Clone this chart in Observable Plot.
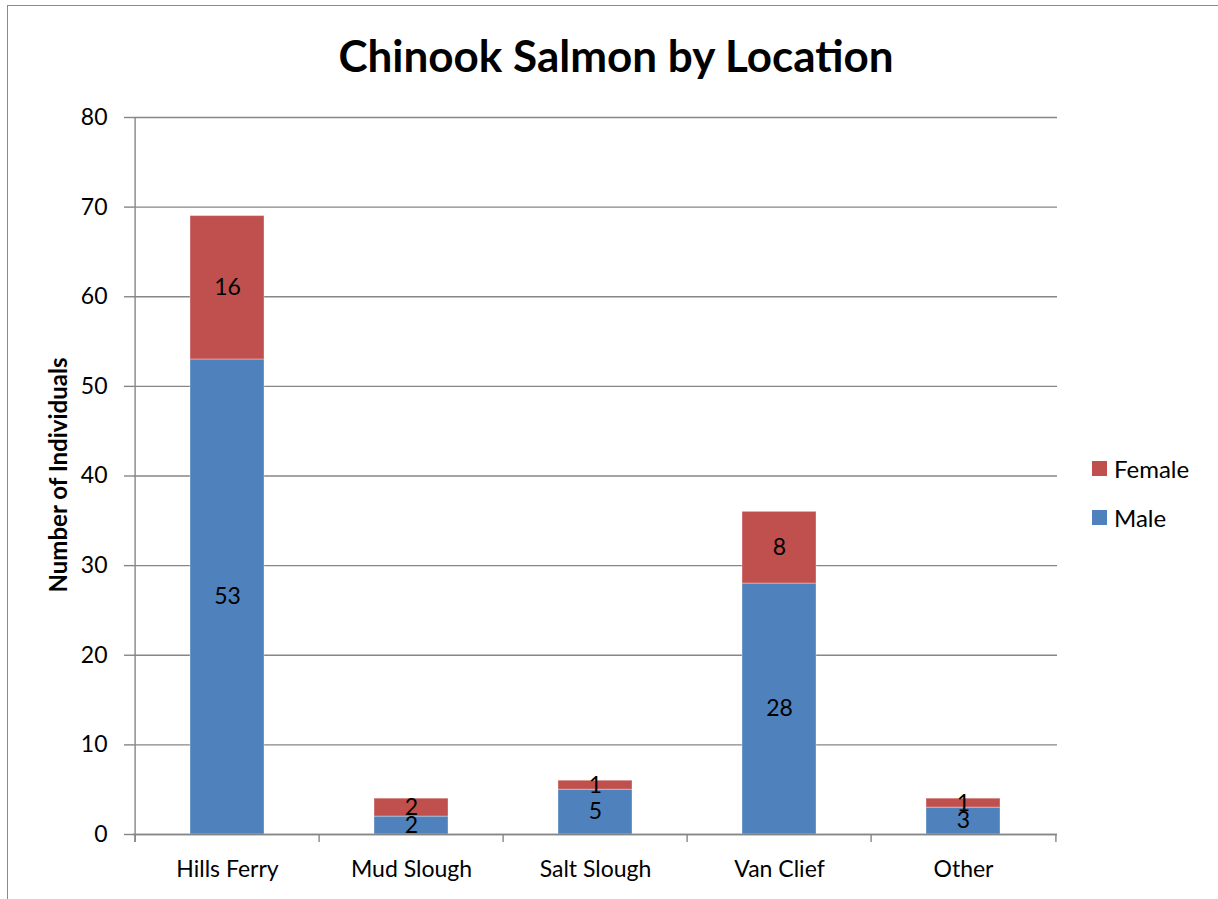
<!DOCTYPE html>
<html>
<head>
<meta charset="utf-8">
<script src="https://cdn.jsdelivr.net/npm/d3@7"></script>
<script src="https://cdn.jsdelivr.net/npm/@observablehq/plot@0.6"></script>
<style>
  html, body { margin: 0; padding: 0; background: #fff; overflow: hidden; }
  #wrap { position: relative; width: 1218px; height: 899px; font-family: Lato, "Open Sans", sans-serif; color: #000; }
  #border { position: absolute; left: 7px; top: 5px; width: 1230px; height: 910px; border-left: 1px solid #8a8a8a; border-top: 1px solid #8a8a8a; }
  #chart { position: absolute; left: 0; top: 0; }
  #title { position: absolute; left: 0; width: 1232px; top: 33px; text-align: center; font-weight: 700; font-size: 44px; line-height: 1; }
  #ylabel { position: absolute; left: 57px; top: 475px; transform: translate(-50%, -50%) rotate(-90deg); white-space: nowrap; font-weight: 700; font-size: 24px; }
  #legend { position: absolute; left: 1092px; top: 456px; font-size: 24px; }
  .item { display: flex; align-items: center; height: 25px; margin-bottom: 24px; }
  .swatch { width: 15px; height: 15px; margin-right: 7px; }
</style>
</head>
<body>
<div id="wrap">
  <div id="border"></div>
  <div id="chart"></div>
  <div id="title">Chinook Salmon by Location</div>
  <div id="ylabel">Number of Individuals</div>
  <div id="legend"></div>
</div>
<script>
// Chinook salmon counts by capture location, split by sex
const locations = ["Hills Ferry", "Mud Slough", "Salt Slough", "Van Clief", "Other"];
const male = [53, 2, 5, 28, 3];
const female = [16, 2, 1, 8, 1];
const sexes = ["Female", "Male"];
const sexColors = ["#C0504D", "#4F81BD"];
const yTicks = [0, 10, 20, 30, 40, 50, 60, 70, 80];

// Long-format rows: males first so they stack at the bottom
const rows = [
  ...locations.map((loc, i) => ({location: loc, sex: "Male", count: male[i]})),
  ...locations.map((loc, i) => ({location: loc, sex: "Female", count: female[i]}))
];

const W = 1218, H = 899;
const ML = 133, MR = 161, MT = 117, MB = 65;
// band step (padding inner 0.6, outer 0.3 => step = range / n)
const step = (W - ML - MR) / locations.length;
const grey = "#868686";

const chart = Plot.plot({
  width: W,
  height: H,
  marginLeft: ML,
  marginRight: MR,
  marginTop: MT,
  marginBottom: MB,
  style: {fontFamily: "Lato, 'Open Sans', sans-serif", fontSize: "23px", color: "#000", background: "transparent"},
  x: {domain: locations, paddingInner: 0.6, paddingOuter: 0.3, label: null},
  y: {domain: [0, 80], label: null},
  color: {domain: sexes, range: sexColors},
  marks: [
    Plot.gridY(yTicks, {stroke: grey, strokeOpacity: 1, strokeWidth: 1.4}),
    Plot.barY(rows, {x: "location", y: "count", fill: "sex", stroke: "#fff", strokeOpacity: 0.35, strokeWidth: 1}),
    Plot.text(rows, Plot.stackY({x: "location", y: "count", z: "sex", text: "count", fill: "#000"})),
    // category boundary ticks below the baseline; the first doubles as the y axis line
    Plot.ruleX(locations, {x: d => d, y1: 0, y2: 0, dx: -step / 2, insetBottom: -8, stroke: grey, strokeWidth: 1.4}),
    Plot.ruleX([locations[0]], {x: d => d, y1: 80, y2: 0, dx: -step / 2, insetBottom: -8, stroke: grey, strokeWidth: 1.4}),
    Plot.ruleX([locations[locations.length - 1]], {x: d => d, y1: 0, y2: 0, dx: step / 2, insetBottom: -8, stroke: grey, strokeWidth: 1.4}),
    Plot.ruleY([0], {stroke: grey, strokeWidth: 1.4}),
    Plot.axisY(yTicks, {tickSize: 9, tickPadding: 17, stroke: grey, strokeWidth: 1.4, strokeOpacity: 1, label: null}),
    Plot.axisX({tickSize: 0, tickPadding: 26, label: null})
  ]
});
document.getElementById("chart").appendChild(chart);

// legend: Female above Male
const legend = document.getElementById("legend");
sexes.forEach((s, i) => {
  const item = document.createElement("div");
  item.className = "item";
  const sw = document.createElement("span");
  sw.className = "swatch";
  sw.style.background = sexColors[i];
  const label = document.createElement("span");
  label.textContent = s;
  item.appendChild(sw);
  item.appendChild(label);
  legend.appendChild(item);
});
</script>
</body>
</html>
